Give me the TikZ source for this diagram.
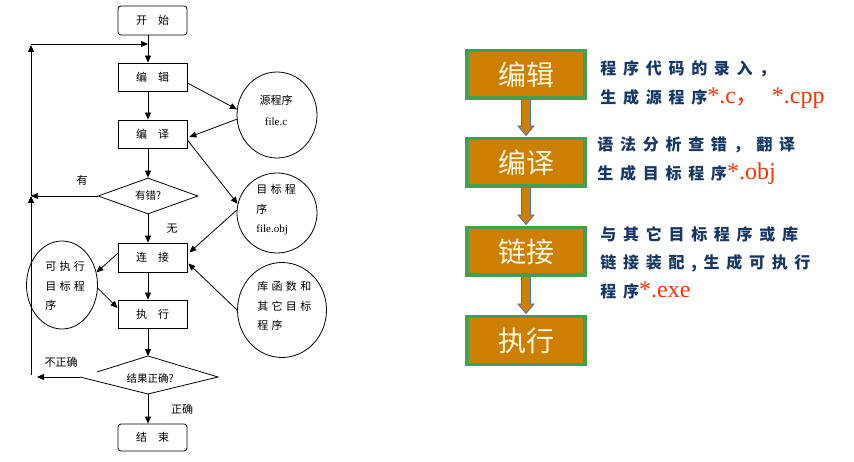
\documentclass[tikz,border=0pt]{standalone}
\usepackage{fontspec}
\setmainfont{Liberation Serif}
\newfontfamily\cjk{Noto Sans CJK SC}
\newfontfamily\cjks[LetterSpace=30]{Noto Sans CJK SC}
\newfontfamily\cjkw[LetterSpace=42]{Noto Sans CJK SC}
\usetikzlibrary{shapes.geometric,arrows.meta,calc,backgrounds}
\definecolor{boxfill}{RGB}{204,127,0}
\definecolor{boxedge}{RGB}{64,160,80}
\definecolor{arrblue}{RGB}{68,114,196}
\definecolor{navy}{RGB}{23,55,100}
\definecolor{redtxt}{RGB}{255,51,0}
\definecolor{cream}{RGB}{255,245,225}
\begin{document}
\begin{tikzpicture}[x=1pt,y=-1pt,line width=0.8pt,
  fbox/.style={draw,minimum width=69pt,minimum height=28pt,inner sep=0pt,font=\cjk\fontsize{11}{13}\selectfont},
  ell/.style={draw,ellipse,inner sep=0pt},
  lbl/.style={font=\cjk\fontsize{11}{13}\selectfont,inner sep=0pt},
  etxt/.style={font=\cjks\fontsize{11}{19.5}\selectfont,inner sep=0pt,align=left,anchor=north west},
  arr/.style={-{Triangle[length=7pt,width=6pt]}},
  rbox/.style={draw=boxedge,line width=3.5pt,fill=boxfill,minimum width=118pt,minimum height=47.5pt,text=cream,font=\cjk\fontsize{28}{30}\selectfont},
  rtxt/.style={anchor=base west,inner sep=0pt,text=navy,font=\cjkw\bfseries\fontsize{16}{18}\selectfont},
  blockarr/.style={draw=arrblue,fill=boxfill,line width=0.8pt}
]
\useasboundingbox (0,0) rectangle (854,462);
\begin{scope}[on background layer]
\fill[white] (0,0) rectangle (854,462);
\end{scope}

% ---------- left flowchart ----------
\node[fbox,rounded corners=3pt,minimum height=29pt] (start) at (152.5,20.5) {开\quad 始};
\node[fbox] (edit) at (152.5,77) {编\quad 辑};
\node[fbox] (comp) at (152.5,134) {编\quad 译};
\node[draw,diamond,minimum width=100pt,minimum height=36pt,aspect=2.78,inner sep=0pt,font=\cjk\fontsize{10.5}{12}\selectfont] (err) at (148,196) {有错?};
\node[fbox,minimum height=29pt] (link) at (152.5,257.5) {连\quad 接};
\node[fbox] (run) at (152.5,314) {执\quad 行};
\coordinate (resT) at (148,356);
\coordinate (resR) at (218,377);
\coordinate (resB) at (148,394);
\coordinate (resL) at (80,377);
\coordinate (resUL) at (97,372);
\node[lbl,font=\cjk\fontsize{10.5}{12}\selectfont] (res) at (150,378) {结果正确?};
\draw (resUL) -- (resT) -- (resR) -- (resB) -- (resL);
\node[fbox,rounded corners=3pt,minimum height=27pt] (end) at (152.5,437.5) {结\quad 束};

% vertical arrows
\draw[arr] ([xshift=-4.5pt]start.south) -- ([xshift=-4.5pt]edit.north);
\draw[arr] ([xshift=-4.5pt]edit.south) -- ([xshift=-4.5pt]comp.north);
\draw[arr] ([xshift=-4.5pt]comp.south) -- (err.north);
\draw[arr] (err.south) -- ([xshift=-4.5pt]link.north);
\draw[arr] ([xshift=-4.5pt]link.south) -- ([xshift=-4.5pt]run.north);
\draw[arr] ([xshift=-4.5pt]run.south) -- (resT);
\draw[arr] (resB) -- ([xshift=-4.5pt]end.north);

% loop back
\coordinate (L1) at (31,375);
\coordinate (L2) at (31,196);
\coordinate (L3) at (31,44);
\coordinate (J) at (148,44);
\draw[arr] (L1) -- (L2);
\draw[arr] (L2) -- ([yshift=-1pt]L3);
\draw[arr] (L3) -- (J);
\draw[arr,line width=0.6pt] (err.west) -- (L2);
\coordinate (NR) at (37,377);
\draw[arr] (resL) -- (NR);

\node[lbl] (you) at (82,180) {有};
\node[lbl] (wu) at (172,229) {无};
\node[lbl] (bzq) at (61,362) {不正确};
\node[lbl] (zq) at (182,409) {正确};

% ellipses
\node[ell,minimum width=80pt,minimum height=86pt] (src) at (277,115) {};
\node[lbl,align=center,font=\cjk\fontsize{11}{21}\selectfont] (srcT) at (276,110) {源程序\\ \rmfamily file.c};
\node[ell,minimum width=80pt,minimum height=80pt] (obj) at (277,213) {};
\node[etxt] (objT) at (256,184) {目标程\\序\\ \rmfamily file.obj};
\node[ell,minimum width=89pt,minimum height=95pt] (lib) at (282,310) {};
\node[etxt] (libT) at (257,281) {库函数和\\其它目标\\程序};
\node[ell,minimum width=71pt,minimum height=88pt] (exe) at (62,285) {};
\node[etxt] (exeT) at (45,261) {可执行\\目标程\\序};

\draw[arr] ($(edit.east)+(0,6)$) -- (src.172);
\draw[arr] (src.186) -- ($(comp.east)+(2,3)$);
\draw[arr] ($(comp.east)+(0,6)$) -- (obj.167);
\draw[arr] (obj.176) -- ($(link.east)+(2,-5)$);
\draw[arr] (lib.west) -- ($(link.east)+(1,6)$);
\draw[arr] ($(link.west)+(0,-4)$) -- (exe.20);
\draw[arr] (exe.355) -- ($(run.west)+(0,-6)$);

% ---------- right chart ----------
\node[rbox] (b1) at (526,74.5) {编辑};
\node[rbox] (b2) at (526,162.5) {编译};
\node[rbox] (b3) at (526,251.5) {链接};
\node[rbox] (b4) at (526,340.5) {执行};
\begin{scope}[on background layer]
\foreach \a/\b in {b1/b2,b2/b3,b3/b4}{
  \draw[blockarr] ($(\a.south)+(-4.5,0)$) -- ($(\b.north)+(-4.5,-11)$) -- ($(\b.north)+(-8,-11)$)
    -- ($(\b.north)+(0,-1.5)$) -- ($(\b.north)+(8,-11)$) -- ($(\b.north)+(4.5,-11)$) -- ($(\a.south)+(4.5,0)$);
}
\end{scope}

\newcommand{\rd}[1]{{\color{redtxt}\rmfamily\mdseries\fontsize{24}{24}\selectfont #1}}
\node[rtxt] (t1a) at (600,75) {程序代码的录入，};
\node[rtxt] (t1b) at (600,104) {生成源程序\rd{*.c{\cjk，}\ \ *.cpp}};
\node[rtxt] (t2a) at (597,151) {语法分析查错，翻译};
\node[rtxt] (t2b) at (597,180) {生成目标程序\rd{*.obj}};
\node[rtxt] (t3a) at (600,241) {与其它目标程序或库};
\node[rtxt] (t3b) at (600,269) {链接装配,生成可执行};
\node[rtxt] (t3c) at (600,298) {程序\rd{*.exe}};
\end{tikzpicture}
\end{document}
